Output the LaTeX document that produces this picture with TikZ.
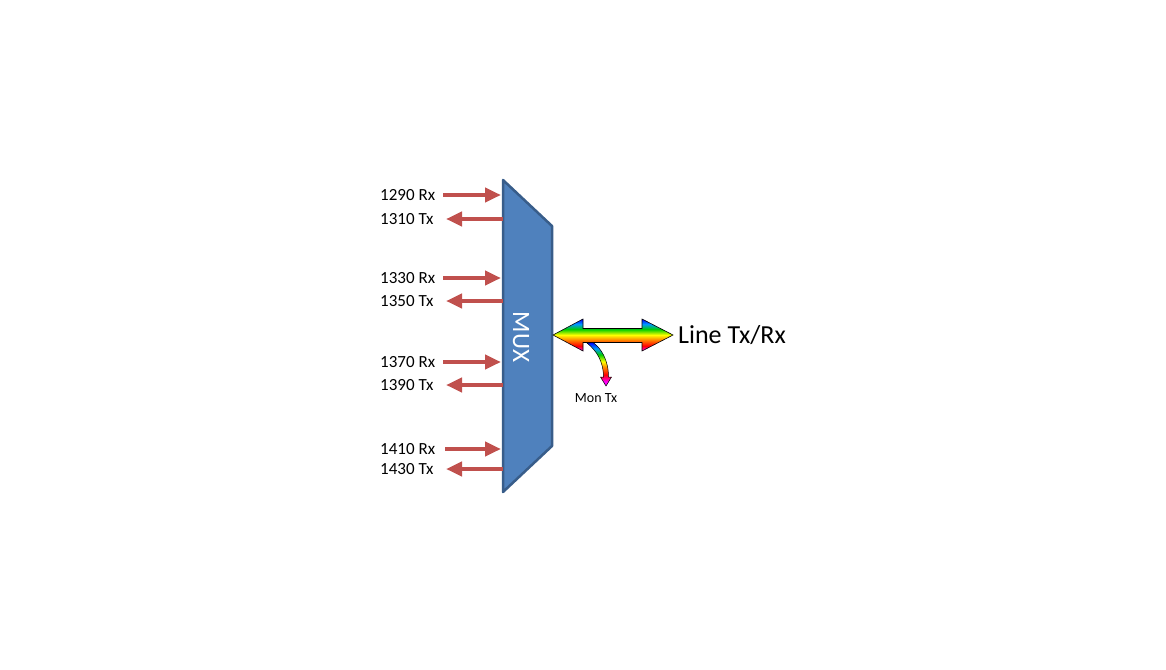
\documentclass[tikz,border=0pt]{standalone}
\usepackage{fontspec}
\setmainfont{Carlito}
\usetikzlibrary{arrows.meta}
\definecolor{muxfill}{HTML}{4F81BD}
\definecolor{muxline}{HTML}{385D8A}
\definecolor{sigred}{HTML}{C0504D}
\pgfdeclareverticalshading{rainbow}{100bp}{color(0bp)=(magenta); color(25bp)=(magenta); color(33bp)=(red); color(42bp)=(orange); color(50bp)=(yellow); color(59bp)=(green!80!black); color(67bp)=(cyan!60!blue); color(75bp)=(blue); color(100bp)=(blue)}
\pgfdeclareverticalshading{monrainbow}{100bp}{color(0bp)=(magenta); color(30bp)=(magenta); color(38bp)=(red); color(46bp)=(orange); color(53bp)=(yellow); color(61bp)=(green!80!black); color(68bp)=(cyan!60!blue); color(75bp)=(blue); color(100bp)=(blue)}
\tikzset{
  lbl/.style={anchor=west, inner sep=0pt, font=\fontsize{17}{20}\selectfont},
  sig/.style={draw=sigred, line width=4.5pt, -{Triangle[length=16pt,width=14pt]}},
}
\begin{document}
\begin{tikzpicture}[x=1pt,y=-1pt]
\useasboundingbox (0,0) rectangle (1166,669);
% MUX
\path[fill=muxfill, draw=muxline, line width=2.5pt, line join=round]
  (503,180) -- (552,226) -- (552,446) -- (503,492) -- cycle;
\node[text=white, rotate=-90, font=\fontsize{25}{28}\selectfont, inner sep=0pt] (mux) at (521,337) {MUX};
% labels
\foreach \name/\txt/\y in {a/1290 Rx/195, b/1310 Tx/219, c/1330 Rx/278, d/1350 Tx/301, e/1370 Rx/362, f/1390 Tx/385, g/1410 Rx/449, h/1430 Tx/469}{
  \node[lbl] (\name) at (380,\y) {\txt};
}
% Rx arrows (into the MUX)
\foreach \y/\xs in {195/443, 278/443, 362/443, 449/445}{
  \coordinate (s) at (\xs,\y);
  \coordinate (t) at (501,\y);
  \draw[sig] (s) -- (t);
}
% Tx arrows (out of the MUX)
\foreach \y in {219, 301, 385, 469}{
  \coordinate (s) at (503,\y);
  \coordinate (t) at (446,\y);
  \draw[sig] (s) -- (t);
}
% line double arrow
\shade[shading=rainbow, draw=black, line width=0.6pt, line join=miter]
  (553,335) -- (583,319) -- (583,328.5) -- (642,328.5) -- (642,319) -- (673,335)
  -- (642,351) -- (642,342.5) -- (583,342.5) -- (583,351) -- cycle;
\node[anchor=west, inner sep=0pt, font=\fontsize{26}{30}\selectfont] (line) at (678,335) {Line Tx/Rx};
% Mon Tx arrow
\shade[shading=monrainbow, draw=black, line width=0.5pt, line join=miter]
  (587,343) .. controls (597,351) and (603.5,362) .. (603.5,377) -- (600.5,377) -- (606,386)
  -- (611.5,377) -- (608.5,377) .. controls (608.5,360) and (601,348) .. (593,342.5) -- cycle;
\node[inner sep=0pt, font=\fontsize{14}{16}\selectfont] (mon) at (596,398) {Mon Tx};
\end{tikzpicture}
\end{document}
